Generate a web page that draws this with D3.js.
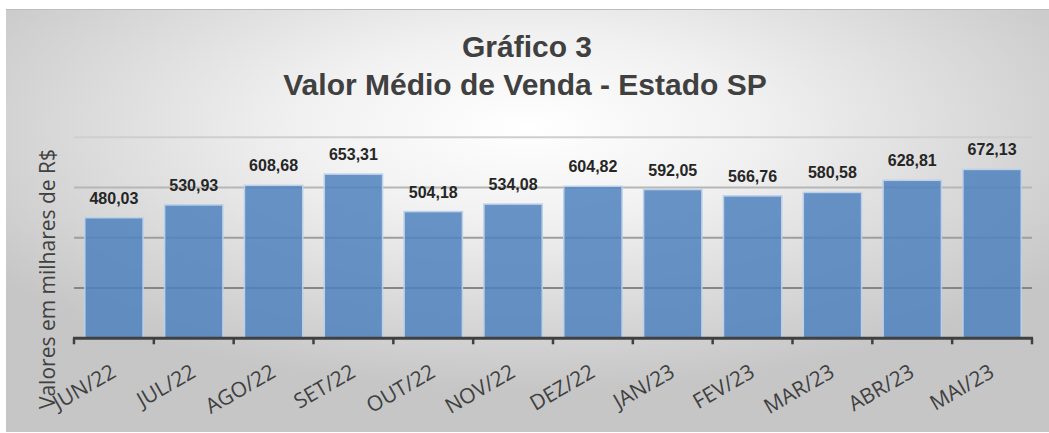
<!DOCTYPE html>
<html>
<head>
<meta charset="utf-8">
<script src="https://cdn.jsdelivr.net/npm/d3@7"></script>
<style>
  html, body { margin: 0; padding: 0; background: #ffffff; }
  svg { display: block; }
</style>
</head>
<body>
<svg id="chart" width="1049" height="433"></svg>
<script>
const categories = ["JUN/22","JUL/22","AGO/22","SET/22","OUT/22","NOV/22","DEZ/22","JAN/23","FEV/23","MAR/23","ABR/23","MAI/23"];
const values = [480.03, 530.93, 608.68, 653.31, 504.18, 534.08, 604.82, 592.05, 566.76, 580.58, 628.81, 672.13];
const valueLabels = ["480,03","530,93","608,68","653,31","504,18","534,08","604,82","592,05","566,76","580,58","628,81","672,13"];
const gridTicks = [0, 200, 400, 600, 800];
const titleLines = ["Gráfico 3", "Valor Médio de Venda - Estado SP"];
const yTitle = "Valores em milhares de R$";

const W = 1049, H = 433;
const svg = d3.select("#chart");
const defs = svg.append("defs");

const bg = defs.append("radialGradient").attr("id", "bgGrad")
  .attr("cx", 0.5).attr("cy", 0.28).attr("r", 0.62);
bg.append("stop").attr("offset", 0).attr("stop-color", "#ffffff");
bg.append("stop").attr("offset", 0.35).attr("stop-color", "#f1f1f1");
bg.append("stop").attr("offset", 1).attr("stop-color", "#c6c6c6");

const gridGrad = defs.append("linearGradient").attr("id", "gridGrad")
  .attr("gradientUnits", "userSpaceOnUse")
  .attr("x1", 0).attr("x2", 0).attr("y1", 130).attr("y2", 300);
gridGrad.append("stop").attr("offset", 0).attr("stop-color", "#d2d2d2");
gridGrad.append("stop").attr("offset", 1).attr("stop-color", "#808080");

// frame
svg.append("rect").attr("x", 6).attr("y", 9).attr("width", W - 6).attr("height", H - 10)
  .attr("fill", "url(#bgGrad)");
svg.append("line").attr("x1", 6).attr("x2", W).attr("y1", 9.5).attr("y2", 9.5)
  .attr("stroke", "#bdbdbd").attr("stroke-width", 1);

// title
const title = svg.append("text")
  .attr("text-anchor", "middle")
  .attr("font-family", "Liberation Sans, Arial, sans-serif")
  .attr("font-weight", "bold")
  .attr("fill", "#404040");
title.append("tspan").attr("x", 527).attr("y", 57).attr("font-size", 30).text(titleLines[0]);
title.append("tspan").attr("x", 525).attr("y", 95).attr("font-size", 30).text(titleLines[1]);

const plot = { left: 74, right: 1032, top: 137.3, bottom: 338.3 };

const x = d3.scaleBand().domain(categories)
  .range([plot.left, plot.right])
  .paddingInner(0.27).paddingOuter(0.135);
const y = d3.scaleLinear().domain([0, 800]).range([plot.bottom, plot.top]);

// gridlines
svg.append("g").selectAll("line").data(gridTicks.filter(d => d > 0)).join("line")
  .attr("x1", plot.left).attr("x2", plot.right)
  .attr("y1", d => y(d)).attr("y2", d => y(d))
  .attr("stroke", "url(#gridGrad)").attr("stroke-width", 2);

// bars
svg.append("g").selectAll("rect").data(values).join("rect")
  .attr("x", (d, i) => x(categories[i]))
  .attr("y", d => y(d))
  .attr("width", x.bandwidth())
  .attr("height", d => y(0) - y(d))
  .attr("fill", "#4f81bd").attr("fill-opacity", 0.85)
  .attr("stroke", "#bcd0ea").attr("stroke-width", 1.5);

// value labels
svg.append("g").selectAll("text").data(values).join("text")
  .attr("x", (d, i) => x(categories[i]) + x.bandwidth() / 2)
  .attr("y", d => y(d) - 14)
  .attr("text-anchor", "middle")
  .attr("font-family", "Liberation Sans, Arial, sans-serif")
  .attr("font-weight", "bold")
  .attr("font-size", 16)
  .attr("fill", "#262626")
  .text((d, i) => valueLabels[i]);

// x axis line and ticks
const step = x.step();
const tickPos = d3.range(categories.length + 1).map(i => plot.left + i * step);
svg.append("line").attr("x1", plot.left - 1).attr("x2", plot.right + 1)
  .attr("y1", plot.bottom).attr("y2", plot.bottom)
  .attr("stroke", "#404040").attr("stroke-width", 3);
svg.append("g").selectAll("line").data(tickPos).join("line")
  .attr("x1", d => d).attr("x2", d => d)
  .attr("y1", plot.bottom).attr("y2", plot.bottom + 6)
  .attr("stroke", "#404040").attr("stroke-width", 2.5);

// category labels
svg.append("g").selectAll("text").data(categories).join("text")
  .attr("transform", d => `translate(${x(d) + x.bandwidth() / 2 + 3.5},376) rotate(-30)`)
  .attr("text-anchor", "end")
  .attr("font-family", "Open Sans, sans-serif")
  .attr("font-size", 21)
  .attr("fill", "#404040")
  .text(d => d);

// y title
svg.append("text")
  .attr("transform", "translate(55,279) rotate(-90)")
  .attr("text-anchor", "middle")
  .attr("font-family", "Open Sans, sans-serif")
  .attr("font-size", 21)
  .attr("fill", "#404040")
  .text(yTitle);
</script>
</body>
</html>
